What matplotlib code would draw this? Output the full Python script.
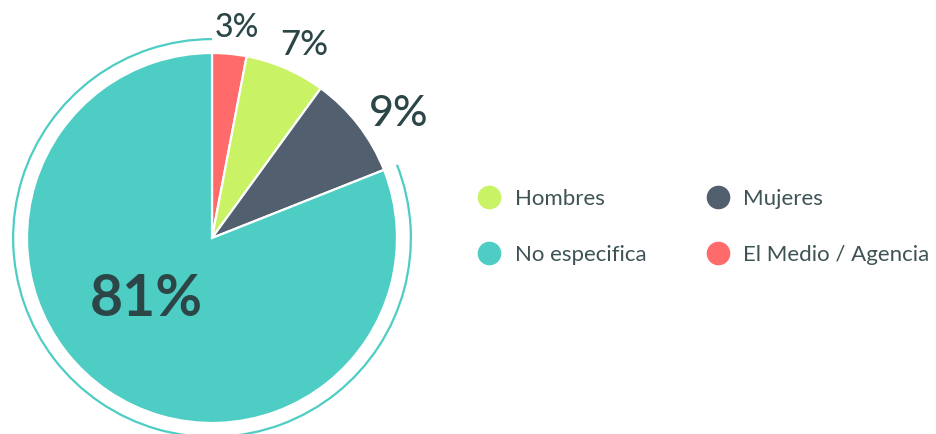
import numpy as np
import matplotlib
matplotlib.use('Agg')
from matplotlib import pyplot as plt
from matplotlib.patches import Arc
from matplotlib.lines import Line2D

plt.rcParams['font.family'] = ['Lato', 'DejaVu Sans']

# datos (orden horario desde las 12)
categorias = ['El Medio / Agencia', 'Hombres', 'Mujeres', 'No especifica']
valores = [3, 7, 9, 81]
colores = ['#FF6B6B', '#C9F364', '#525F6F', '#4ECDC4']
etiquetas = ['3%', '7%', '9%', '81%']

# orden de la leyenda
orden_leyenda = ['Hombres', 'No especifica', 'Mujeres', 'El Medio / Agencia']

color_texto = '#2C4647'
color_leyenda = '#3E5355'

fig = plt.figure(figsize=(9.37, 4.34), dpi=100)
ax = fig.add_axes([0, 0, 1, 1])

wedges, _ = ax.pie(valores, colors=colores, startangle=90, counterclock=False,
                   radius=1.0, wedgeprops=dict(edgecolor='white', linewidth=1.6))

# arco exterior alrededor del segmento mayor
w = wedges[-1]
ax.add_patch(Arc((0, 0), 2 * 1.075, 2 * 1.075, theta1=w.theta1, theta2=w.theta2,
                 color=colores[-1], lw=1.6))

# etiquetas de porcentaje
label_r = [1.145, 1.155, 1.21, 0.485]
label_ang = [83.3, 64.5, 33.5, 223.0]
label_size = [23, 25, 31, 41]
label_peso = ['medium', 'medium', 'medium', 'bold']
for txt, r, a, s, p in zip(etiquetas, label_r, label_ang, label_size, label_peso):
    ax.text(r * np.cos(np.radians(a)), r * np.sin(np.radians(a)), txt,
            ha='center', va='center', fontsize=s, color=color_texto, fontweight=p)

ax.set_xlim(-212 / 185, (937 - 212) / 185)
ax.set_ylim(-196 / 185, 238 / 185)
ax.set_aspect('auto')
ax.axis('off')

handles = []
for nombre in orden_leyenda:
    c = colores[categorias.index(nombre)]
    handles.append(Line2D([], [], marker='o', linestyle='none', markersize=16,
                          markerfacecolor=c, markeredgecolor=c, label=nombre))
leg = ax.legend(handles=handles, ncol=2, frameon=False, loc='upper left',
                bbox_to_anchor=(476 / 937, 1 - 189 / 434), fontsize=16,
                handlelength=1.2, handletextpad=0.55, columnspacing=2.6,
                labelspacing=1.62, borderaxespad=0, borderpad=0)
for t in leg.get_texts():
    t.set_color(color_leyenda)

plt.savefig('out.png', dpi=100)
